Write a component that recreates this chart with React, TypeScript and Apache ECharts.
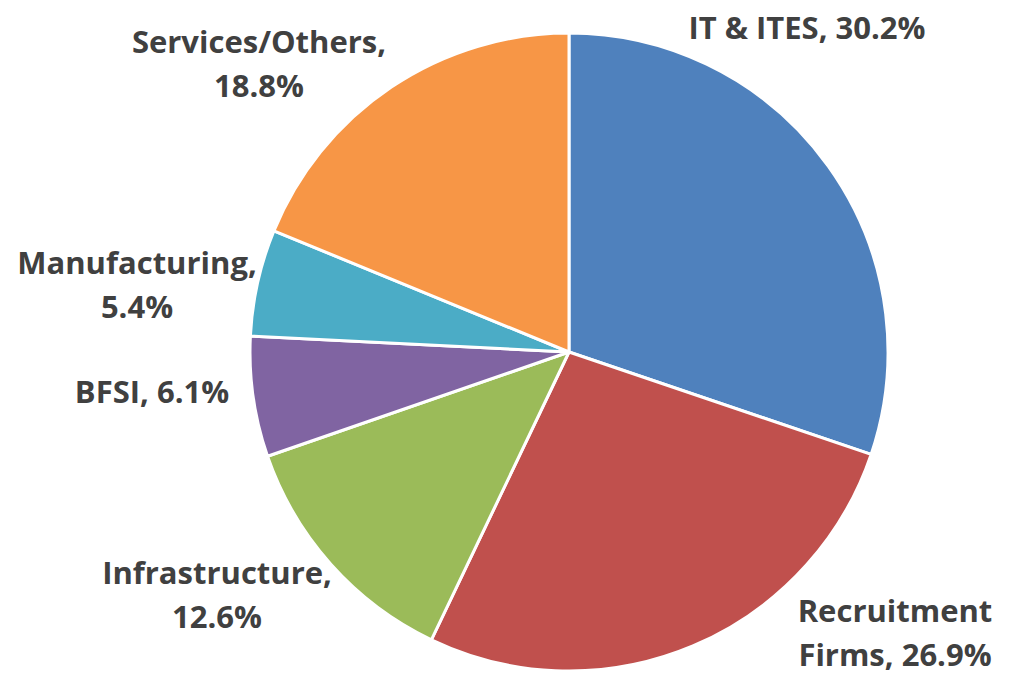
import React, { useEffect, useRef } from "react";
import * as echarts from "echarts";

const categories = ["IT & ITES", "Recruitment Firms", "Infrastructure", "BFSI", "Manufacturing", "Services/Others"];
const labelTexts = ["IT & ITES, ", "Recruitment\nFirms, ", "Infrastructure,\n", "BFSI, ", "Manufacturing,\n", "Services/Others,\n"];
const shares = [30.2, 26.9, 12.6, 6.1, 5.4, 18.8];
const colors = ["#4F81BD", "#C0504D", "#9BBB59", "#8064A2", "#4BACC6", "#F79646"];
const labelCenters: [number, number][] = [
  [807, 27],
  [895, 632],
  [217, 594],
  [152, 391],
  [137, 284],
  [259, 63],
];

export default function App() {
  const ref = useRef<HTMLDivElement>(null);
  useEffect(() => {
    if (!ref.current) return;
    const chart = echarts.init(ref.current, undefined, { renderer: "svg" });
    chart.setOption({
      animation: false,
      backgroundColor: "#ffffff",
      series: [
        {
          type: "pie",
          center: [569, 352],
          radius: 319,
          startAngle: 90,
          clockwise: true,
          avoidLabelOverlap: false,
          data: categories.map((c, i) => ({
            name: c,
            value: shares[i],
            itemStyle: { color: colors[i] },
          })),
          itemStyle: { borderColor: "#ffffff", borderWidth: 3 },
          labelLine: { show: false },
          label: {
            show: true,
            position: "outside",
            formatter: (p: any) => labelTexts[p.dataIndex] + shares[p.dataIndex].toFixed(1) + "%",
            fontFamily: "Open Sans",
            fontWeight: "bold",
            fontSize: 31,
            lineHeight: 44,
            color: "#404040",
            align: "center",
          },
          labelLayout: (p: any) => ({
            x: labelCenters[p.dataIndex][0],
            y: labelCenters[p.dataIndex][1],
            align: "center",
            verticalAlign: "middle",
          }),
          emphasis: { disabled: true },
        },
      ],
    });
    return () => chart.dispose();
  }, []);
  return <div ref={ref} style={{ position: "absolute", left: 0, top: 0, width: 1015, height: 674 }} />;
}
